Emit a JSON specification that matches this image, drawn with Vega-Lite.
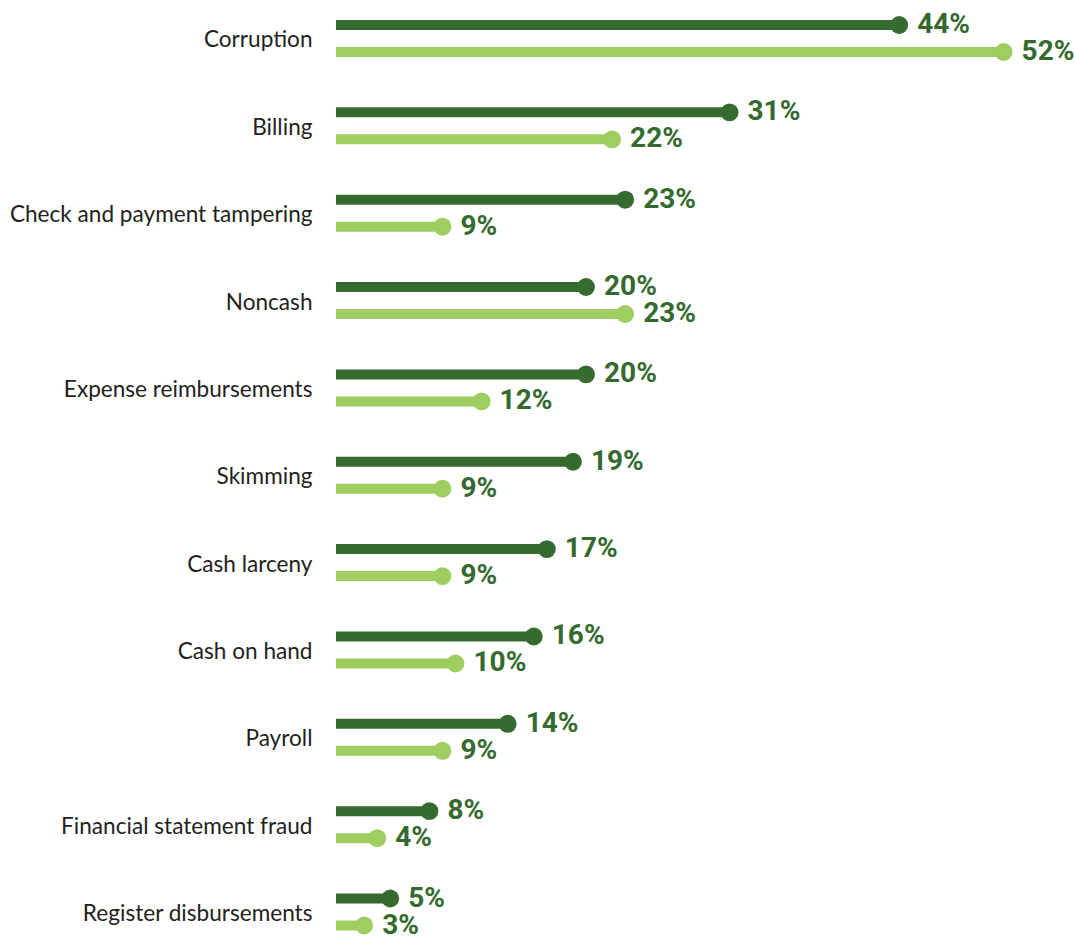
{
  "$schema": "https://vega.github.io/schema/vega-lite/v6.json",
  "width": 739,
  "height": 944,
  "autosize": {"type": "none"},
  "padding": {"left": 336, "top": 0, "right": 0, "bottom": 0},
  "background": "white",
  "config": {"view": {"stroke": null}},
  "data": {
    "values": [
      {"category": "Corruption", "group": "Group 1", "value": 0.44},
      {"category": "Corruption", "group": "Group 2", "value": 0.52},
      {"category": "Billing", "group": "Group 1", "value": 0.31},
      {"category": "Billing", "group": "Group 2", "value": 0.22},
      {"category": "Check and payment tampering", "group": "Group 1", "value": 0.23},
      {"category": "Check and payment tampering", "group": "Group 2", "value": 0.09},
      {"category": "Noncash", "group": "Group 1", "value": 0.20},
      {"category": "Noncash", "group": "Group 2", "value": 0.23},
      {"category": "Expense reimbursements", "group": "Group 1", "value": 0.20},
      {"category": "Expense reimbursements", "group": "Group 2", "value": 0.12},
      {"category": "Skimming", "group": "Group 1", "value": 0.19},
      {"category": "Skimming", "group": "Group 2", "value": 0.09},
      {"category": "Cash larceny", "group": "Group 1", "value": 0.17},
      {"category": "Cash larceny", "group": "Group 2", "value": 0.09},
      {"category": "Cash on hand", "group": "Group 1", "value": 0.16},
      {"category": "Cash on hand", "group": "Group 2", "value": 0.10},
      {"category": "Payroll", "group": "Group 1", "value": 0.14},
      {"category": "Payroll", "group": "Group 2", "value": 0.09},
      {"category": "Financial statement fraud", "group": "Group 1", "value": 0.08},
      {"category": "Financial statement fraud", "group": "Group 2", "value": 0.04},
      {"category": "Register disbursements", "group": "Group 1", "value": 0.05},
      {"category": "Register disbursements", "group": "Group 2", "value": 0.03}
    ]
  },
  "encoding": {
    "y": {
      "field": "category",
      "type": "nominal",
      "sort": null,
      "scale": {"range": [-5.2, 955.7], "paddingInner": 0, "paddingOuter": 0},
      "axis": {
        "title": null,
        "ticks": false,
        "domain": false,
        "labelPadding": 24,
        "labelOffset": 2,
        "labelFont": "Lato",
        "labelFontSize": 22.6,
        "labelColor": "#231f20",
        "labelLimit": 400
      }
    },
    "yOffset": {
      "field": "group",
      "type": "nominal",
      "scale": {"paddingInner": 0, "paddingOuter": 0.6176}
    },
    "color": {
      "field": "group",
      "type": "nominal",
      "scale": {"domain": ["Group 1", "Group 2"], "range": ["#366b30", "#9dce5f"]},
      "legend": null
    }
  },
  "layer": [
    {
      "mark": {"type": "rule", "strokeWidth": 10, "strokeCap": "butt"},
      "encoding": {
        "x": {
          "field": "value",
          "type": "quantitative",
          "scale": {"domain": [0.00843, 0.5747], "nice": false, "zero": false, "clamp": true},
          "axis": null
        },
        "x2": {"datum": 0}
      }
    },
    {
      "mark": {"type": "circle", "size": 320, "opacity": 1},
      "encoding": {
        "x": {"field": "value", "type": "quantitative"}
      }
    },
    {
      "mark": {
        "type": "text",
        "align": "left",
        "baseline": "middle",
        "dx": 18,
        "dy": 0,
        "font": "Roboto",
        "fontWeight": "bold",
        "fontSize": 28,
        "letterSpacing": -1.5
      },
      "encoding": {
        "x": {"field": "value", "type": "quantitative"},
        "text": {"field": "value", "type": "quantitative", "format": ".0%"},
        "color": {"value": "#356a2f"}
      }
    }
  ]
}
